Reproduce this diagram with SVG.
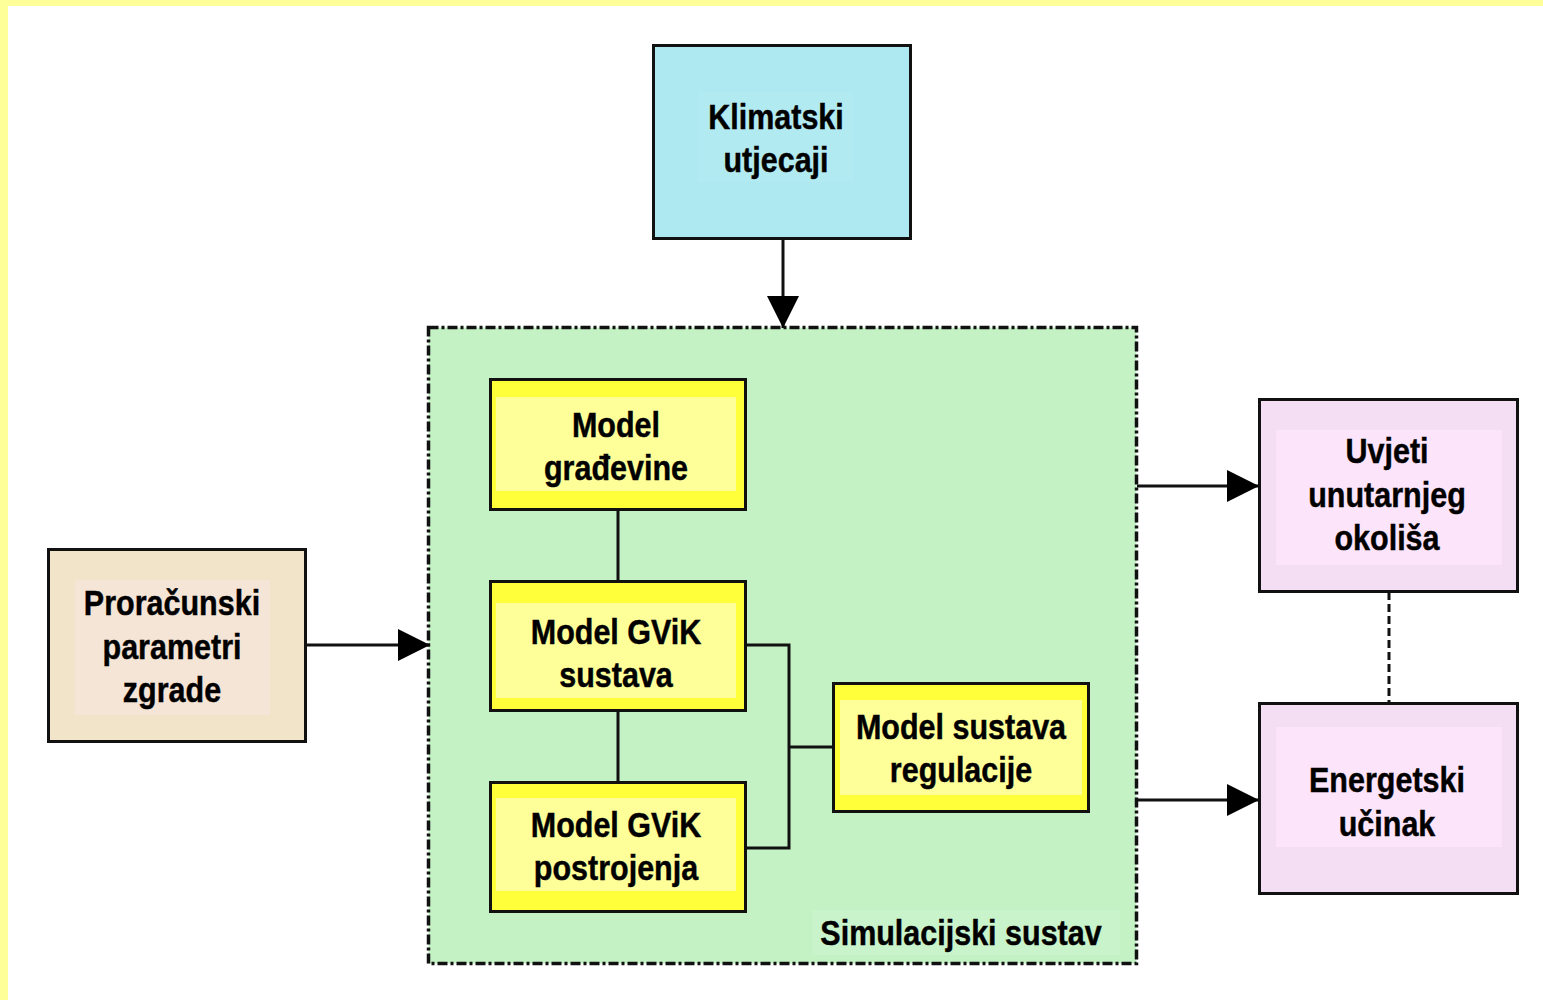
<svg xmlns="http://www.w3.org/2000/svg" width="1543" height="1000" viewBox="0 0 1543 1000">
<style>
.box{stroke:#111;stroke-width:3}
.ybox{fill:#FFFF3A}
.yin{fill:#FFFF99}
.t{font-family:"Liberation Sans",Arial,sans-serif;font-weight:bold;font-size:30.5px;fill:#000;text-anchor:middle;stroke:#000;stroke-width:0.4}
.ln{stroke:#111;stroke-width:3;fill:none}
</style>
<defs>
<marker id="ah" viewBox="0 0 10 10" refX="10" refY="5" markerWidth="32" markerHeight="34" markerUnits="userSpaceOnUse" orient="auto">
<path d="M0,0 L10,5 L0,10 Z" fill="#000"/>
</marker>
</defs>
<rect x="0" y="0" width="1543" height="1000" fill="#fff"/>
<rect x="0" y="0" width="1543" height="6" fill="#FFFF99"/>
<rect x="0" y="0" width="8" height="1000" fill="#FFFF99"/>

<g id="simulacijski-sustav">
<rect x="428.5" y="327.5" width="708" height="636" fill="#C5F2C5" stroke="#111" stroke-width="3.5" stroke-dasharray="10 3 3 3"/>
<rect x="812" y="910" width="308" height="45" fill="#C9F4CB"/>
<text class="t" transform="translate(961,945) scale(1,1.15)">Simulacijski sustav</text>
</g>

<g id="klimatski-utjecaji">
<rect class="box" x="653.5" y="45.5" width="257" height="193" fill="#AEE8F0"/>
<rect x="698" y="92" width="155" height="90" fill="#B2EAF2"/>
<text class="t" transform="translate(776,129) scale(1,1.15)">Klimatski<tspan x="0" dy="37.5">utjecaji</tspan></text>
</g>

<g id="proracunski-parametri">
<rect class="box" x="48.5" y="549.5" width="257" height="192" fill="#F2E4C8"/>
<rect x="75" y="580" width="195" height="135" fill="#F5E5D6"/>
<text class="t" transform="translate(172,615) scale(1,1.15)">Proračunski<tspan x="0" dy="38">parametri</tspan><tspan x="0" dy="38">zgrade</tspan></text>
</g>

<g id="model-gradevine">
<rect class="box ybox" x="490.5" y="379.5" width="255" height="130"/>
<rect class="yin" x="496" y="397" width="240" height="94"/>
<text class="t" transform="translate(616,437) scale(1,1.15)">Model<tspan x="0" dy="37.5">građevine</tspan></text>
</g>

<g id="model-gvik-sustava">
<rect class="box ybox" x="490.5" y="581.5" width="255" height="129"/>
<rect class="yin" x="496" y="603" width="240" height="95"/>
<text class="t" transform="translate(616,644) scale(1,1.15)">Model GViK<tspan x="0" dy="37.5">sustava</tspan></text>
</g>

<g id="model-gvik-postrojenja">
<rect class="box ybox" x="490.5" y="782.5" width="255" height="129"/>
<rect class="yin" x="496" y="798" width="240" height="93"/>
<text class="t" transform="translate(616,837) scale(1,1.15)">Model GViK<tspan x="0" dy="37.5">postrojenja</tspan></text>
</g>

<g id="model-sustava-regulacije">
<rect class="box ybox" x="833.5" y="683.5" width="255" height="128"/>
<rect class="yin" x="840" y="700" width="242" height="95"/>
<text class="t" transform="translate(961,739) scale(1,1.15)">Model sustava<tspan x="0" dy="37.5">regulacije</tspan></text>
</g>

<g id="uvjeti-unutarnjeg-okolisa">
<rect class="box" x="1259.5" y="399.5" width="258" height="192" fill="#F4DEF4"/>
<rect x="1276" y="430" width="226" height="135" fill="#FCE4FA"/>
<text class="t" transform="translate(1387,463) scale(1,1.15)">Uvjeti<tspan x="0" dy="38">unutarnjeg</tspan><tspan x="0" dy="38">okoliša</tspan></text>
</g>

<g id="energetski-ucinak">
<rect class="box" x="1259.5" y="703.5" width="258" height="190" fill="#F4DEF4"/>
<rect x="1276" y="727" width="226" height="120" fill="#FCE4FA"/>
<text class="t" transform="translate(1387,792) scale(1,1.15)">Energetski<tspan x="0" dy="38">učinak</tspan></text>
</g>

<g id="connectors">
<line class="ln" x1="783" y1="239" x2="783" y2="328" marker-end="url(#ah)"/>
<line class="ln" x1="307" y1="645" x2="430" y2="645" marker-end="url(#ah)"/>
<line class="ln" x1="1137" y1="486" x2="1259" y2="486" marker-end="url(#ah)"/>
<line class="ln" x1="1137" y1="800" x2="1259" y2="800" marker-end="url(#ah)"/>
<line class="ln" x1="618" y1="509" x2="618" y2="581"/>
<line class="ln" x1="618" y1="710" x2="618" y2="782"/>
<polyline class="ln" points="746,645 789,645 789,848 746,848"/>
<line class="ln" x1="789" y1="747" x2="833" y2="747"/>
<line class="ln" x1="1389" y1="592" x2="1389" y2="703" stroke-dasharray="8 4"/>
</g>
</svg>
